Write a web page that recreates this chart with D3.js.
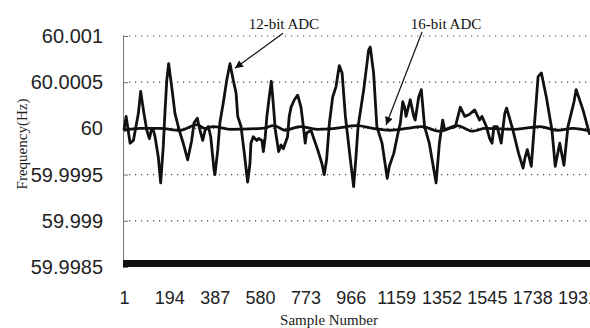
<!DOCTYPE html>
<html>
<head>
<meta charset="utf-8">
<script src="https://cdn.jsdelivr.net/npm/d3@7"></script>
<style>
  body { margin: 0; background: #fff; }
  svg { display: block; }
</style>
</head>
<body>
<figure id="freq" style="margin:0"></figure>
<script>
// Frequency estimate, 12-bit vs 16-bit ADC
const adc12Samples = [1, 10, 27, 41, 62, 72, 86, 98, 109, 119, 126, 133, 147, 157, 168, 175, 183, 191, 204, 218,
  236, 253, 272, 289, 299, 313, 324, 336, 346, 360, 370, 384, 388, 400, 409, 423, 438, 452, 466, 478,
  485, 499, 513, 527, 537, 541, 551, 566, 574, 588, 594, 602, 609, 619, 628, 636, 645, 659, 669, 679,
  687, 697, 704, 712, 726, 740, 754, 761, 772, 778, 797, 806, 825, 843, 853, 863, 875, 889, 903, 917,
  929, 943, 963, 978, 988, 997, 1021, 1042, 1049, 1063, 1077, 1099, 1121, 1130, 1149, 1167, 1177, 1187, 1195, 1201,
  1219, 1234, 1240, 1255, 1266, 1280, 1300, 1329, 1343, 1357, 1366, 1385, 1411, 1432, 1451, 1470, 1493, 1514, 1524, 1543,
  1557, 1567, 1575, 1589, 1606, 1621, 1629, 1656, 1680, 1699, 1708, 1717, 1734, 1748, 1763, 1777, 1798, 1822, 1836, 1855,
  1873, 1890, 1916, 1925, 1954, 1983];
const adc12Values = [59.99998, 60.00013, 59.99984, 59.99987, 60.00016, 60.00040, 60.00016, 59.99998, 59.99989, 60.00000,
  59.99998, 59.99991, 59.99969, 59.99941, 59.99980, 60.00016, 60.00052, 60.00070, 60.00045, 60.00016,
  59.99998, 59.99984, 59.99966, 59.99987, 60.00006, 60.00011, 59.99998, 59.99987, 59.99998, 60.00002,
  59.99991, 59.99955, 59.99950, 59.99977, 60.00006, 60.00027, 60.00052, 60.00070, 60.00052, 60.00038,
  60.00013, 60.00002, 59.99973, 59.99942, 59.99962, 59.99984, 59.99991, 59.99987, 59.99989, 59.99987,
  59.99975, 59.99991, 60.00013, 60.00034, 60.00051, 60.00027, 59.99998, 59.99975, 59.99982, 59.99978,
  59.99984, 59.99991, 60.00013, 60.00023, 60.00031, 60.00036, 60.00023, 60.00009, 59.99984, 59.99995,
  59.99998, 59.99991, 59.99977, 59.99962, 59.99950, 59.99966, 60.00006, 60.00034, 60.00045, 60.00068,
  60.00060, 60.00013, 59.99969, 59.99937, 59.99969, 60.00002, 60.00042, 60.00085, 60.00088, 60.00060,
  60.00002, 59.99984, 59.99946, 59.99959, 59.99973, 59.99995, 60.00006, 60.00029, 60.00023, 60.00013,
  60.00031, 60.00013, 60.00009, 60.00034, 60.00042, 60.00002, 59.99984, 59.99941, 59.99984, 60.00009,
  59.99998, 60.00000, 60.00002, 60.00023, 60.00013, 60.00015, 60.00020, 60.00009, 60.00013, 60.00002,
  59.99989, 59.99984, 60.00002, 60.00002, 59.99984, 60.00016, 60.00022, 59.99998, 59.99973, 59.99957,
  59.99969, 59.99977, 59.99959, 60.00006, 60.00056, 60.00060, 60.00034, 59.99998, 59.99959, 59.99984,
  59.99960, 60.00002, 60.00029, 60.00042, 60.00020, 59.99993];

const adc16Samples = [1, 69, 154, 239, 312, 346, 380, 452, 588, 639, 686, 750, 822, 899, 992, 1060, 1133, 1205, 1269, 1341,
  1418, 1486, 1537, 1665, 1771, 1843, 1911, 1984];
const adc16Values = [59.99998, 60.00000, 60.00000, 59.99998, 60.00004, 60.00000, 60.00002, 59.99999, 60.00000, 60.00003,
  59.99998, 60.00002, 59.99999, 60.00000, 60.00003, 60.00000, 59.99998, 60.00000, 60.00002, 59.99997,
  60.00003, 59.99997, 60.00000, 59.99999, 60.00002, 59.99998, 60.00000, 59.99997];

const xTicks = [1, 194, 387, 580, 773, 966, 1159, 1352, 1545, 1738, 1931];
const yTicks = [59.9985, 59.999, 59.9995, 60, 60.0005, 60.001];
const yTickLabels = ["59.9985", "59.999", "59.9995", "60", "60.0005", "60.001"];

const width = 590, height = 328;

const svg = d3.select("figure#freq")
  .append("svg")
  .attr("width", width)
  .attr("height", height);

const x = d3.scaleLinear()
  .domain([1, 2000])
  .range([124, 593.8]);

const y = d3.scaleLinear()
  .domain([59.9985, 60.001])
  .range([267, 36]);

// dotted gridlines
svg.append("g")
  .selectAll("line")
  .data(yTicks.filter(d => d > 59.9985))
  .enter()
  .append("line")
  .attr("x1", 123)
  .attr("x2", width)
  .attr("y1", d => y(d))
  .attr("y2", d => y(d))
  .attr("stroke", "#444")
  .attr("stroke-width", 1.2)
  .attr("stroke-dasharray", "1.2,4.8");

// left axis
const yAxis = svg.append("g")
  .attr("transform", "translate(123,0)")
  .call(d3.axisLeft(y).tickValues(yTicks).tickSize(-5).tickPadding(20)
    .tickFormat((d, i) => yTickLabels[i]));
yAxis.select(".domain").attr("stroke", "#777");
yAxis.selectAll(".tick line").attr("stroke", "#777");
yAxis.selectAll("text")
  .attr("font-family", "'Liberation Sans', Arial, sans-serif")
  .attr("font-size", 20)
  .attr("fill", "#222");

// bottom axis: one tick per sample makes a solid band
svg.append("rect")
  .attr("x", 123)
  .attr("y", y(59.9985) - 7)
  .attr("width", width - 123)
  .attr("height", 7)
  .attr("fill", "#111");

const xAxis = svg.append("g")
  .attr("transform", "translate(0," + y(59.9985) + ")")
  .call(d3.axisBottom(x).tickValues(xTicks).tickSize(0).tickPadding(24).tickFormat(d3.format("d")));
xAxis.select(".domain").remove();
xAxis.selectAll("text")
  .attr("font-family", "'Liberation Sans', Arial, sans-serif")
  .attr("font-size", 18)
  .attr("fill", "#222");

// lines
const line = d3.line()
  .x(d => x(d[0]))
  .y(d => y(d[1]));

svg.append("path")
  .datum(adc16Samples.map((s, i) => [s, adc16Values[i]]))
  .attr("d", line.curve(d3.curveMonotoneX))
  .attr("fill", "none")
  .attr("stroke", "#111")
  .attr("stroke-width", 2.8);

svg.append("path")
  .datum(adc12Samples.map((s, i) => [s, adc12Values[i]]))
  .attr("d", line.curve(d3.curveLinear))
  .attr("fill", "none")
  .attr("stroke", "#111")
  .attr("stroke-width", 2.8)
  .attr("stroke-linejoin", "round");

// axis titles
svg.append("text")
  .attr("transform", "translate(27,144) rotate(-90)")
  .attr("text-anchor", "middle")
  .attr("font-family", "'Liberation Serif', 'Times New Roman', serif")
  .attr("font-size", 15)
  .attr("fill", "#222")
  .text("Frequency(Hz)");

svg.append("text")
  .attr("x", 329)
  .attr("y", 325)
  .attr("text-anchor", "middle")
  .attr("font-family", "'Liberation Serif', 'Times New Roman', serif")
  .attr("font-size", 15)
  .attr("fill", "#222")
  .text("Sample Number");

// annotations
const notes = [
  { label: "12-bit ADC", sample: 473, value: 60.00065, dx: 48, dy: -35, tx: 1, ty: -4 },
  { label: "16-bit ADC", sample: 1116, value: 60.000037, dx: 36, dy: -93, tx: 24, ty: -3 }
];

svg.append("defs").append("marker")
  .attr("id", "head")
  .attr("viewBox", "0 0 10 10")
  .attr("refX", 10)
  .attr("refY", 5)
  .attr("markerWidth", 11)
  .attr("markerHeight", 8)
  .attr("markerUnits", "userSpaceOnUse")
  .attr("orient", "auto")
  .append("path")
  .attr("d", "M0,0L10,5L0,10Z")
  .attr("fill", "#111");

const note = svg.append("g").selectAll("g")
  .data(notes)
  .enter()
  .append("g");

note.append("line")
  .attr("x1", d => x(d.sample) + d.dx)
  .attr("y1", d => y(d.value) + d.dy)
  .attr("x2", d => x(d.sample))
  .attr("y2", d => y(d.value))
  .attr("stroke", "#111")
  .attr("stroke-width", 1.2)
  .attr("marker-end", "url(#head)");

note.append("text")
  .attr("x", d => x(d.sample) + d.dx + d.tx)
  .attr("y", d => y(d.value) + d.dy + d.ty)
  .attr("text-anchor", "middle")
  .attr("font-family", "'Liberation Serif', 'Times New Roman', serif")
  .attr("font-size", 15)
  .attr("fill", "#111")
  .text(d => d.label);
</script>
</body>
</html>
